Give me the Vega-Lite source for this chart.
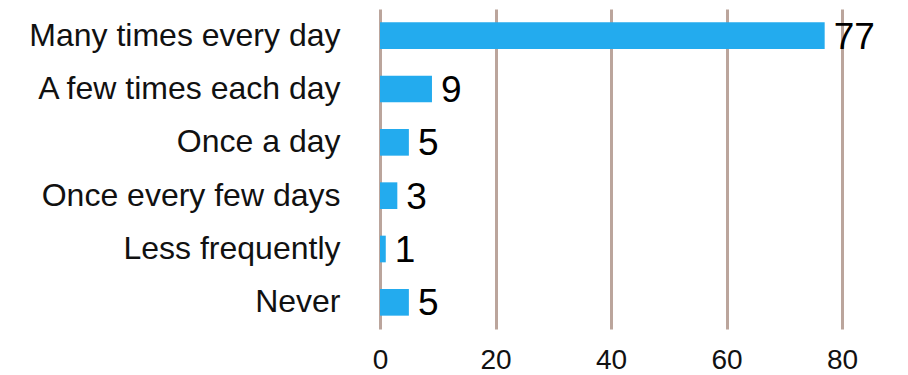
{
  "$schema": "https://vega.github.io/schema/vega-lite/v6.json",
  "width": 462,
  "height": 320,
  "autosize": {"type": "none"},
  "padding": {"left": 380, "top": 9, "right": 66, "bottom": 46},
  "background": "white",
  "config": {
    "view": {"stroke": null},
    "font": "Liberation Sans"
  },
  "data": {
    "values": [
      {"frequency": "Many times every day", "percent": 77},
      {"frequency": "A few times each day", "percent": 9},
      {"frequency": "Once a day", "percent": 5},
      {"frequency": "Once every few days", "percent": 3},
      {"frequency": "Less frequently", "percent": 1},
      {"frequency": "Never", "percent": 5}
    ]
  },
  "encoding": {
    "y": {
      "field": "frequency",
      "type": "nominal",
      "sort": null,
      "scale": {"paddingInner": 0.5, "paddingOuter": 0.25},
      "axis": {
        "title": null,
        "domain": false,
        "ticks": false,
        "labelFontSize": 32,
        "labelColor": "#111",
        "labelPadding": 40,
        "labelLimit": 400
      }
    },
    "x": {
      "field": "percent",
      "type": "quantitative",
      "scale": {"domain": [0, 80], "nice": false},
      "axis": {
        "title": null,
        "values": [0, 20, 40, 60, 80],
        "domain": false,
        "ticks": false,
        "grid": true,
        "gridColor": "#bba59c",
        "gridWidth": 3,
        "labelFontSize": 28,
        "labelColor": "#111",
        "labelPadding": 17,
        "labelFlush": false
      }
    }
  },
  "layer": [
    {"mark": {"type": "bar", "color": "#23abee"}},
    {
      "mark": {
        "type": "text",
        "align": "left",
        "baseline": "middle",
        "dx": 9,
        "dy": 2,
        "fontSize": 37,
        "color": "#000"
      },
      "encoding": {"text": {"field": "percent", "type": "quantitative"}}
    }
  ]
}
